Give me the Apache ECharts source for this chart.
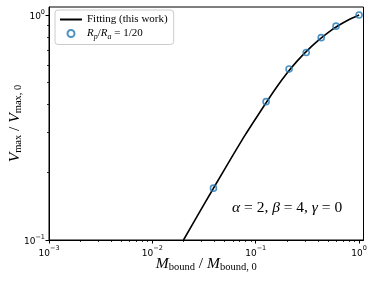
<!DOCTYPE html>
<html>
<head>
<meta charset="utf-8">
<script src="https://cdn.jsdelivr.net/npm/echarts@6/dist/echarts.min.js"></script>
<style>
html,body{margin:0;padding:0;background:#fff;}
#c{width:374px;height:281px;}
</style>
</head>
<body>
<div id="c"></div>
<script>
// ---- data ----
const fitX = [0.0200, 0.0316, 0.0501, 0.0794, 0.126, 0.1585, 0.1995, 0.2512, 0.3162, 0.3981, 0.5012, 0.631, 0.7943, 1.000];
const fitY = [0.100, 0.1439, 0.2065, 0.2938, 0.4074, 0.4764, 0.5495, 0.6237, 0.6966, 0.7674, 0.8356, 0.8975, 0.9528, 1.000];
const ptX = [0.039, 0.126, 0.210, 0.308, 0.430, 0.598, 1.000];
const ptY = [0.170, 0.412, 0.575, 0.681, 0.793, 0.892, 1.000];
const xMajorTicks = [0.001, 0.01, 0.1, 1];
const xMinorTicks = [0.002,0.003,0.004,0.005,0.006,0.007,0.008,0.009,
                     0.02,0.03,0.04,0.05,0.06,0.07,0.08,0.09,
                     0.2,0.3,0.4,0.5,0.6,0.7,0.8,0.9];
const yMajorTicks = [0.1, 1];
const yMinorTicks = [0.2,0.3,0.4,0.5,0.6,0.7,0.8,0.9];
const tickLabels = {0.001:'−3', 0.01:'−2', 0.1:'−1', 1:'0'};
const fitName = 'Fitting (this work)';
const ptName = 'Rp/Ra = 1/20';
const annotation = '{g|α}{n| = 2, }{g|β}{n| = 4, }{g|γ}{n| = 0}';

const serif = '"Liberation Serif", "DejaVu Serif", serif';
const sans = '"DejaVu Sans", sans-serif';
const tickRich = {
  b:{fontFamily:sans,fontSize:9,color:'#000',lineHeight:13,verticalAlign:'bottom'},
  p:{fontFamily:sans,fontSize:6.5,color:'#000',lineHeight:13,verticalAlign:'top'}
};
function tickFmt(v){
  const k = Object.keys(tickLabels).find(t => Math.abs(Math.log10(+t) - Math.log10(v)) < 1e-6);
  return k ? '{b|10}{p|' + tickLabels[k] + '}' : '';
}
const xMin = 0.001, xMax = 1.103, yMin = 0.1, yMax = 1.085;
const chart = echarts.init(document.getElementById('c'), null, {renderer:'canvas'});
const axisLine = {show:true, lineStyle:{color:'#000', width:1}};
const titleRich = {
  i:{fontFamily:serif,fontStyle:'italic',fontSize:15.5,color:'#000',lineHeight:19},
  n:{fontFamily:serif,fontSize:15.5,color:'#000',lineHeight:19},
  s:{fontFamily:serif,fontSize:10.5,color:'#000',lineHeight:19,verticalAlign:'bottom'}
};
chart.setOption({
  animation:false,
  backgroundColor:'#fff',
  grid:{left:49, right:10.5, top:7, bottom:41, outerBoundsMode:'none', containLabel:false,
        show:true, borderColor:'#000', borderWidth:1, backgroundColor:'transparent'},
  legend:{
    orient:'vertical', left:55, top:10,
    backgroundColor:'#fff', borderColor:'#ccc', borderWidth:1, borderRadius:3,
    padding:[4,6,4,4], itemGap:3, itemWidth:22, itemHeight:7,
    data:[{name:fitName, itemStyle:{opacity:0}},{name:ptName}],
    formatter:function(n){ return n === ptName ? '{i|R}{s|p}{n|/}{i|R}{s|a}{n| = 1/20}' : '{n|' + n + '}'; },
    textStyle:{
      fontFamily:serif, fontSize:11, color:'#000',
      rich:{
        n:{fontFamily:serif,fontSize:11,color:'#000',lineHeight:14},
        i:{fontFamily:serif,fontStyle:'italic',fontSize:11,color:'#000',lineHeight:14},
        s:{fontFamily:serif,fontStyle:'italic',fontSize:8,color:'#000',lineHeight:14,verticalAlign:'bottom'}
      }
    }
  },
  xAxis:[{
    type:'log', min:xMin, max:xMax, position:'bottom',
    axisLine:axisLine, splitLine:{show:false},
    axisTick:{show:true, inside:false, length:3.5, customValues:xMajorTicks, lineStyle:{color:'#000',width:1}},
    axisLabel:{show:true, customValues:xMajorTicks, margin:5, formatter:tickFmt, rich:tickRich},
    name:'{i|M}{s|bound}{n| / }{i|M}{s|bound, 0}', nameLocation:'middle', nameGap:14, nameMoveOverlap:false,
    nameTextStyle:{rich:titleRich}
  },{
    type:'log', min:xMin, max:xMax, position:'bottom',
    axisLine:{show:false}, splitLine:{show:false}, axisLabel:{show:false},
    axisTick:{show:true, inside:false, length:2, customValues:xMinorTicks, lineStyle:{color:'#000',width:0.8}}
  }],
  yAxis:[{
    type:'log', min:yMin, max:yMax, position:'left',
    axisLine:axisLine, splitLine:{show:false},
    axisTick:{show:true, inside:false, length:3.5, customValues:yMajorTicks, lineStyle:{color:'#000',width:1}},
    axisLabel:{show:true, customValues:yMajorTicks, margin:4, formatter:tickFmt, rich:tickRich},
    name:'{i|V}{s|max}{n| / }{i|V}{s|max, 0}', nameLocation:'middle', nameGap:25, nameRotate:90, nameMoveOverlap:false,
    nameTextStyle:{rich:titleRich}
  },{
    type:'log', min:yMin, max:yMax, position:'left',
    axisLine:{show:false}, splitLine:{show:false}, axisLabel:{show:false},
    axisTick:{show:true, inside:false, length:2, customValues:yMinorTicks, lineStyle:{color:'#000',width:0.8}}
  }],
  series:[{
    name:fitName, type:'line', xAxisIndex:0, yAxisIndex:0,
    data:fitX.map((x,i)=>[x, fitY[i]]),
    symbol:'none', smooth:0.2, clip:true,
    lineStyle:{color:'#000', width:1.6}, itemStyle:{color:'#000'}, z:3
  },{
    name:ptName, type:'scatter', xAxisIndex:0, yAxisIndex:0,
    data:ptX.map((x,i)=>[x, ptY[i]]),
    symbol:'circle', symbolSize:6,
    itemStyle:{color:'rgba(0,0,0,0)', borderColor:'#1f77b4', borderWidth:1.6}, z:4
  }],
  graphic:[{
    type:'text', left:232, top:200,
    style:{
      text:annotation,
      rich:{
        g:{fontFamily:serif,fontStyle:'italic',fontSize:15.5,fill:'#000',lineHeight:18},
        n:{fontFamily:serif,fontSize:15.5,fill:'#000',lineHeight:18}
      }
    }
  }]
});
</script>
</body>
</html>
